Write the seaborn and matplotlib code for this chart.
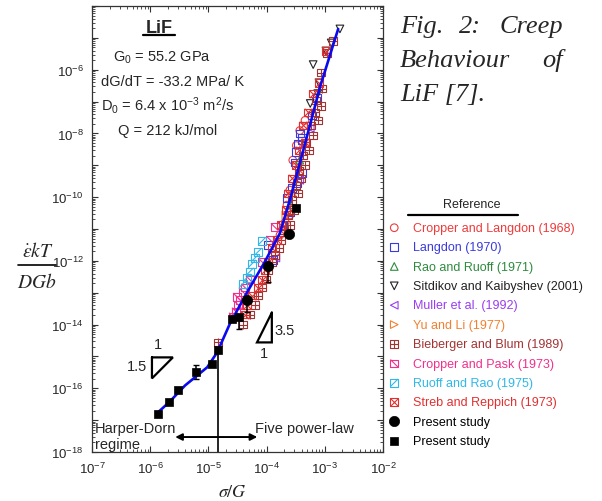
import numpy as np
import pandas as pd
import matplotlib
matplotlib.use("Agg")
import matplotlib.pyplot as plt
import seaborn as sns
import warnings
from matplotlib.path import Path
from matplotlib.lines import Line2D
from matplotlib.legend_handler import HandlerTuple
from matplotlib import ticker

warnings.filterwarnings("ignore")
sns.set_style("ticks")
plt.rcParams['font.family'] = ['Liberation Sans', 'DejaVu Sans']
plt.rcParams['mathtext.fontset'] = 'custom'
plt.rcParams['mathtext.rm'] = 'Liberation Sans'
plt.rcParams['mathtext.it'] = 'Liberation Sans:italic'
plt.rcParams['mathtext.bf'] = 'Liberation Sans:bold'

# ---------------- data (log10 of sigma/G and of normalized creep rate) ----------------
cropper_langdon_lx = [-3.34, -3.43, -3.49, -3.55, -3.44, -3.60, -3.65, -3.60, -3.68, -3.77]
cropper_langdon_ly = [-7.59, -7.91, -8.38, -8.84, -9.31, -9.78, -10.25, -10.56, -10.78, -11.19]

langdon_lx = [-3.13, -3.22, -3.37, -3.43, -3.39, -3.39, -3.46, -3.49, -3.51, -3.39, -3.48,
              -3.56, -3.65, -3.60, -3.72, -3.89, -3.98]
langdon_ly = [-6.88, -7.44, -7.75, -8.00, -8.13, -8.22, -8.31, -8.59, -8.91, -9.25, -9.56,
              -9.72, -10.03, -10.47, -10.88, -11.97, -11.50]

rao_ruoff_lx = [-3.43, -3.60]
rao_ruoff_ly = [-8.84, -10.25]

sitdikov_lx = [-2.74, -2.89, -2.98, -3.20, -3.10, -3.25, -3.12]
sitdikov_ly = [-4.72, -5.16, -5.41, -5.84, -6.41, -7.06, -6.75]

muller_lx = [-3.84, -3.43, -3.25]
muller_ly = [-11.91, -9.47, -7.84]

yu_li_lx = [-3.56, -3.67]
yu_li_ly = [-9.94, -10.56]

bieberger_lx = [-2.86, -2.96, -3.07, -3.05, -3.15, -3.07, -3.17, -3.12, -3.24, -3.20, -3.32,
                -3.27, -3.37, -3.34, -3.44, -3.41, -3.49, -3.46, -3.56, -3.53, -3.63, -3.60,
                -3.70, -3.75, -3.79, -3.86, -3.91, -3.98, -4.01, -4.08, -4.15, -4.20, -4.29,
                -4.41, -4.835]
bieberger_ly = [-5.09, -5.47, -6.09, -6.59, -6.97, -7.13, -7.34, -7.59, -7.75, -8.06, -8.28,
                -8.53, -8.69, -9.00, -9.16, -9.41, -9.63, -9.88, -10.09, -10.41, -10.56, -10.88,
                -11.03, -11.34, -11.59, -11.81, -12.03, -12.28, -12.59, -12.84, -13.09, -13.38,
                -13.69, -14.00, -14.56]

cropper_pask_lx = [-4.58, -4.53, -4.49, -4.51, -4.46, -4.41, -4.37, -4.29, -4.08, -3.86, -3.94]
cropper_pask_ly = [-13.75, -13.59, -13.38, -13.13, -13.22, -12.97, -12.84, -12.59, -12.03, -10.94, -11.34]

ruoff_rao_lx = [-4.08, -4.15, -4.20, -4.25, -4.29, -4.34, -4.41]
ruoff_rao_ly = [-11.38, -11.72, -11.91, -12.09, -12.34, -12.53, -12.72]

streb_lx = [-2.98, -3.10, -3.20, -3.29, -3.37, -3.34, -3.44, -3.49, -3.56, -3.63, -3.67, -3.75,
            -3.82, -3.91, -3.98, -4.03, -4.08, -4.15, -4.25, -4.34, -4.37]
streb_ly = [-5.41, -6.41, -6.75, -7.34, -7.75, -8.28, -8.53, -9.00, -9.41, -9.88, -10.41, -10.88,
            -11.34, -11.59, -12.03, -12.28, -12.59, -12.84, -13.09, -13.38, -13.69]

present_circle_lx = [-4.34, -3.98, -3.615]
present_circle_ly = [-13.22, -12.16, -11.16]
present_circle_err_lo = [0.40, 0.50, 0.0]

present_square_lx = [-5.87, -5.68, -5.52, -5.21, -4.94, -4.835, -4.595, -4.47, -3.49]
present_square_ly = [-16.81, -16.44, -16.06, -15.50, -15.25, -14.81, -13.84, -13.75, -10.34]
present_square_err_lo = [0.0, 0.0, 0.0, 0.22, 0.0, 0.0, 0.0, 0.40, 0.0]
present_square_err_hi = [0.0, 0.0, 0.0, 0.22, 0.0, 0.0, 0.0, 0.0, 0.0]

fit_lx = [-5.88, -5.66, -5.40, -5.02, -4.85, -4.63, -4.34, -4.03, -3.77, -3.60, -3.37, -3.08, -2.77]
fit_ly = [-16.78, -16.41, -15.91, -15.34, -14.875, -13.97, -13.00, -12.03, -11.125, -10.09, -8.53, -6.53, -4.72]

x_tick_exps = [-7, -6, -5, -4, -3, -2]
y_tick_exps = [-18, -16, -14, -12, -10, -8, -6]

legend_labels = ["Cropper and Langdon (1968)", "Langdon (1970)", "Rao and Ruoff (1971)",
                 "Sitdikov and Kaibyshev (2001)", "Muller et al. (1992)", "Yu and Li (1977)",
                 "Bieberger and Blum (1989)", "Cropper and Pask (1973)", "Ruoff and Rao (1975)",
                 "Streb and Reppich (1973)", "Present study", "Present study"]

# ---------------- figure ----------------
W, H = 602, 502
fig = plt.figure(figsize=(W / 100, H / 100), dpi=100)
ax = fig.add_axes([92 / W, 49 / H, 291 / W, 446 / H])
ax.set_xscale('log')
ax.set_yscale('log')
ax.set_xlim(1e-7, 1e-2)
ax.set_ylim(1e-18, 1e-4)

def arr(v):
    return 10.0 ** np.asarray(v, dtype=float)

slash = Path([(-1, -1), (1, 1)], [Path.MOVETO, Path.LINETO])
backslash = Path([(-1, 1), (1, -1)], [Path.MOVETO, Path.LINETO])

MS = 30
series = [
    (cropper_langdon_lx, cropper_langdon_ly, "#ee3b3b", ['o']),
    (langdon_lx, langdon_ly, "#3b3bdd", ['s']),
    (rao_ruoff_lx, rao_ruoff_ly, "#2e8b3e", ['^']),
    (sitdikov_lx, sitdikov_ly, "#222222", ['v']),
    (muller_lx, muller_ly, "#9a3cf0", ['<']),
    (yu_li_lx, yu_li_ly, "#f28030", ['>']),
    (bieberger_lx, bieberger_ly, "#a33434", ['s', '+']),
    (cropper_pask_lx, cropper_pask_ly, "#f0308c", ['s', backslash]),
    (ruoff_rao_lx, ruoff_rao_ly, "#2fb8e8", ['s', slash]),
    (streb_lx, streb_ly, "#e03030", ['s', 'x']),
]

handles = []
colors = []
for lx, ly, col, markers in series:
    parts = []
    for m in markers:
        if isinstance(m, str) and m in ('+', 'x'):
            sns.scatterplot(x=arr(lx), y=arr(ly), ax=ax, marker=m, s=MS,
                            facecolor=col, color=col, linewidth=0.8, zorder=3)
        else:
            sns.scatterplot(x=arr(lx), y=arr(ly), ax=ax, marker=m, s=MS,
                            facecolor='none', edgecolor=col, color=col, linewidth=0.8, zorder=3)
        parts.append(ax.collections[-1])
    handles.append(tuple(parts))
    colors.append(col)

# fitted curve
sns.lineplot(x=arr(fit_lx), y=arr(fit_ly), ax=ax, sort=False, estimator=None,
             color="#0a0af0", linewidth=1.9, zorder=5)

# present study
ax.errorbar(arr(present_circle_lx), arr(present_circle_ly),
            yerr=[arr(present_circle_ly) - arr(np.array(present_circle_ly) - np.array(present_circle_err_lo)),
                  np.zeros(len(present_circle_ly))],
            fmt='none', ecolor='black', elinewidth=1.1, capsize=2.5, zorder=4)
ax.errorbar(arr(present_square_lx), arr(present_square_ly),
            yerr=[arr(present_square_ly) - arr(np.array(present_square_ly) - np.array(present_square_err_lo)),
                  arr(np.array(present_square_ly) + np.array(present_square_err_hi)) - arr(present_square_ly)],
            fmt='none', ecolor='black', elinewidth=1.1, capsize=2.5, zorder=4)
sns.scatterplot(x=arr(present_circle_lx), y=arr(present_circle_ly), ax=ax, marker='o', s=55,
                color='black', edgecolor='black', linewidth=0.5, zorder=6)
handles.append(ax.collections[-1])
colors.append('black')
sns.scatterplot(x=arr(present_square_lx), y=arr(present_square_ly), ax=ax, marker='s', s=40,
                color='black', edgecolor='black', linewidth=0.5, zorder=6)
handles.append(ax.collections[-1])
colors.append('black')

# regime boundary and arrow
ax.plot([10 ** -4.84, 10 ** -4.84], [1e-18, 10 ** -14.8], color='black', lw=1.2, zorder=2)
ax.annotate('', xy=(10 ** -5.57, 10 ** -17.53), xytext=(10 ** -4.16, 10 ** -17.53),
            arrowprops=dict(arrowstyle='<|-|>', color='black', lw=1.4,
                            mutation_scale=10, shrinkA=0, shrinkB=0))
ax.text(10 ** -6.95, 10 ** -17.375, "Harper-Dorn", fontsize=10.5, va='baseline', ha='left')
ax.text(10 ** -6.95, 10 ** -17.86, "regime", fontsize=10.5, va='baseline', ha='left')
ax.text(10 ** -4.20, 10 ** -17.375, "Five power-law", fontsize=10.5, va='baseline', ha='left')

# slope triangles
tri1_x = [10 ** -5.97, 10 ** -5.61, 10 ** -5.97, 10 ** -5.97]
tri1_y = [10 ** -15.03, 10 ** -15.03, 10 ** -15.69, 10 ** -15.03]
ax.plot(tri1_x, tri1_y, color='black', lw=1.6, solid_joinstyle='miter')
ax.text(10 ** -5.86, 10 ** -14.62, "1", fontsize=10.5, ha='center', va='center')
ax.text(10 ** -6.22, 10 ** -15.31, "1.5", fontsize=10.5, ha='center', va='center')
tri2_x = [10 ** -3.91, 10 ** -3.91, 10 ** -4.165, 10 ** -3.91]
tri2_y = [10 ** -13.625, 10 ** -14.56, 10 ** -14.56, 10 ** -13.625]
ax.plot(tri2_x, tri2_y, color='black', lw=1.6, solid_joinstyle='miter')
ax.text(10 ** -3.86, 10 ** -14.16, "3.5", fontsize=10.5, ha='left', va='center')
ax.text(10 ** -4.05, 10 ** -14.90, "1", fontsize=10.5, ha='center', va='center')

# ticks
ax.xaxis.set_major_locator(ticker.FixedLocator(arr(x_tick_exps)))
ax.xaxis.set_minor_locator(ticker.LogLocator(base=10, subs=np.arange(2, 10), numticks=20))
ax.xaxis.set_major_formatter(ticker.FuncFormatter(lambda v, p: r"$10^{%d}$" % round(np.log10(v))))
ax.xaxis.set_minor_formatter(ticker.NullFormatter())
ax.yaxis.set_major_locator(ticker.FixedLocator(arr(np.arange(-18, -3))))
ax.yaxis.set_minor_locator(ticker.LogLocator(base=10, subs=np.arange(2, 10), numticks=30))
ax.yaxis.set_major_formatter(ticker.FuncFormatter(
    lambda v, p: (r"$10^{%d}$" % round(np.log10(v))) if round(np.log10(v)) in y_tick_exps else ""))
ax.yaxis.set_minor_formatter(ticker.NullFormatter())
ax.tick_params(which='both', direction='in', top=True, right=True, labelsize=9.5, color='#333333')
ax.tick_params(which='major', length=4, width=0.8, pad=6)
ax.tick_params(which='minor', length=2, width=0.6)
for sp in ax.spines.values():
    sp.set_linewidth(0.9)
    sp.set_color('#333333')

ax.set_xlabel("")
ax.set_ylabel("")

def fx(px):
    return px / W

def fy(py):
    return 1 - py / H

fig.text(fx(232), fy(497), r"$\sigma/G$", fontsize=13, ha='center', va='baseline', math_fontfamily='stix')
# y-axis label as a stacked fraction
fig.text(fx(38), fy(257), r"$\dot{\varepsilon}kT$", fontsize=14, ha='center', va='baseline',
         math_fontfamily='stix')
fig.add_artist(Line2D([fx(18), fx(56)], [fy(266), fy(266)], color='black', lw=1.2))
fig.text(fx(37), fy(288), r"$DGb$", fontsize=14, ha='center', va='baseline', math_fontfamily='stix')

# parameter block
fig.text(fx(159), fy(33), "LiF", fontsize=13, fontweight='bold', ha='center', va='baseline')
fig.add_artist(Line2D([fx(143), fx(175)], [fy(36), fy(36)], color='black', lw=1.6))
fig.text(fx(113), fy(62), r"G$_0$ = 55.2 GPa", fontsize=10.5, ha='left', va='baseline')
fig.text(fx(101), fy(86), "dG/dT = -33.2 MPa/ K", fontsize=10.5, ha='left', va='baseline')
fig.text(fx(101), fy(111), r"D$_0$ = 6.4 x 10$^{-3}$ m$^2$/s", fontsize=10.5, ha='left', va='baseline')
fig.text(fx(118), fy(135), "Q = 212 kJ/mol", fontsize=10.5, ha='left', va='baseline')

# caption
cap = dict(fontsize=19, family='Liberation Serif', style='italic', va='baseline')
fig.text(fx(400), fy(33), "Fig.", ha='left', **cap)
fig.text(fx(470), fy(33), "2:", ha='center', **cap)
fig.text(fx(563), fy(33), "Creep", ha='right', **cap)
fig.text(fx(400), fy(67), "Behaviour", ha='left', **cap)
fig.text(fx(563), fy(67), "of", ha='right', **cap)
fig.text(fx(400), fy(101), "LiF [7].", ha='left', **cap)

# legend
fig.text(fx(472), fy(208), "Reference", fontsize=9, ha='center', va='baseline')
fig.add_artist(Line2D([fx(408), fx(518)], [fy(216), fy(216)], color='black', lw=1.6))
leg = ax.legend(handles, legend_labels, loc='upper left',
                bbox_to_anchor=(fx(388), fy(223)), bbox_transform=fig.transFigure,
                frameon=False, fontsize=9, handlelength=1.0, handletextpad=1.0,
                labelspacing=0.59, borderpad=0, borderaxespad=0,
                handler_map={tuple: HandlerTuple(ndivide=1)}, labelcolor=colors)

fig.savefig("out.png", dpi=100)
